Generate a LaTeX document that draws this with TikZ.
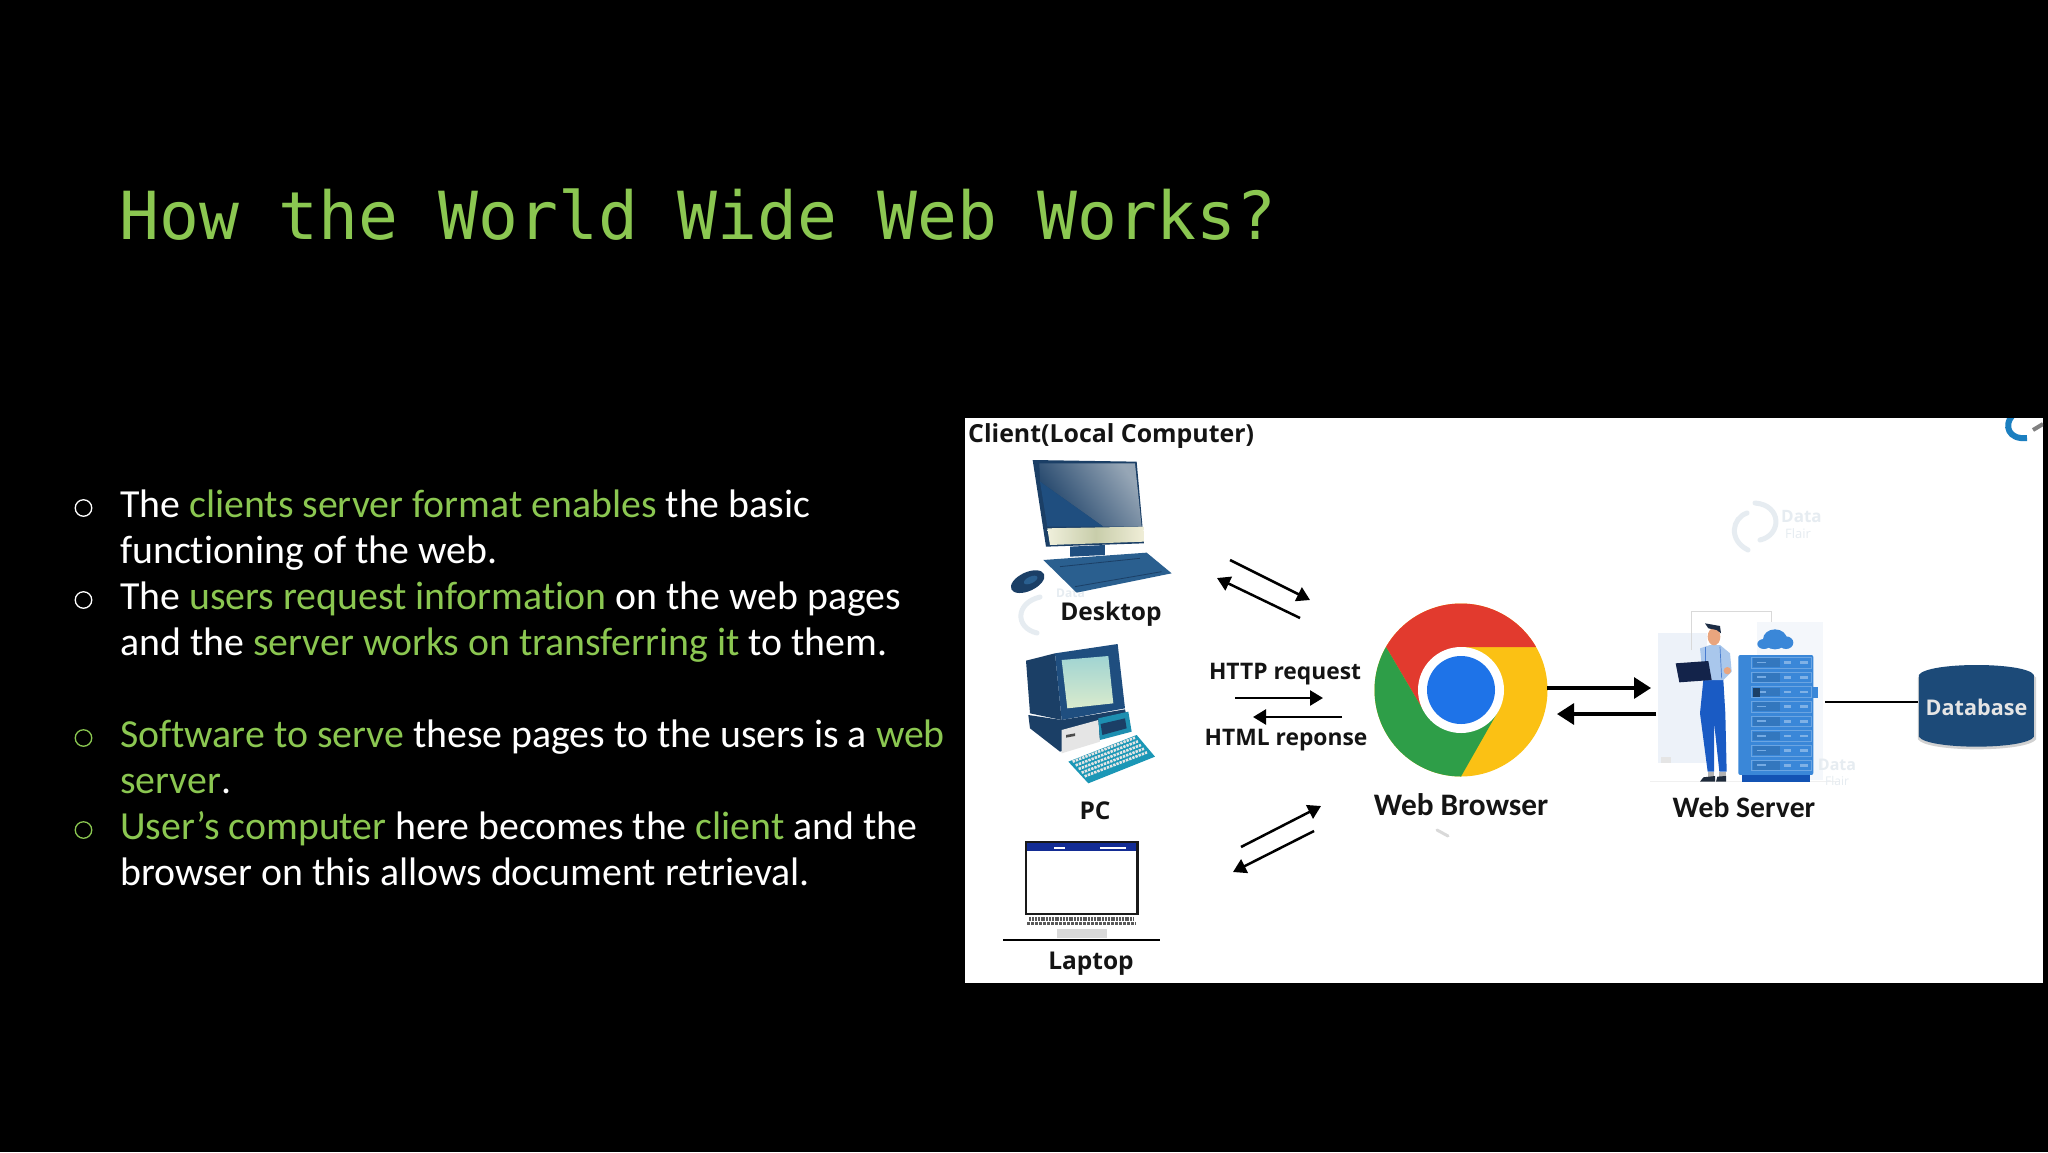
\documentclass[tikz,border=0pt]{standalone}
\usepackage{fontspec}
\setmainfont{Carlito}[Ligatures=NoCommon]
\setmonofont{DejaVu Sans Mono}
\newfontfamily\labelfont{Open Sans}
\usetikzlibrary{arrows.meta}
\definecolor{gr}{HTML}{8BC751}
\definecolor{pale}{HTML}{E6ECF1}
\definecolor{panel}{HTML}{EDF2F9}
\definecolor{rack}{HTML}{3A87D8}
\definecolor{navy}{HTML}{1B3F66}
\definecolor{midblue}{HTML}{1F4E7F}
\definecolor{kbblue}{HTML}{2A5F8F}
\definecolor{dbblue}{HTML}{1C4A78}
\definecolor{pants}{HTML}{1A5BC4}
\definecolor{shoe}{HTML}{1E2A3A}
\newcommand{\gt}[1]{\textcolor{gr}{#1}}
\tikzset{
 body/.style={anchor=base west,text=white,inner sep=0pt,font=\fontsize{39.8}{40}\selectfont},
 bul/.style={circle,draw,line width=1.3pt,minimum size=16.5pt,inner sep=0pt},
 lab/.style={inner sep=0pt,text=black!92,font=\labelfont\bfseries\fontsize{24.5}{26}\selectfont},
 labs/.style={inner sep=0pt,text=black!92,font=\labelfont\bfseries\fontsize{22.8}{24}\selectfont},
 flow/.style={line width=3.2pt,-{Triangle[length=17pt,width=21pt]},black},
 flowthin/.style={line width=2.5pt,-{Triangle[length=13pt,width=15pt]},black},
 wmark/.style={pale,line width=5pt,line cap=round},
 faint/.style={text=pale,inner sep=0pt,font=\labelfont\bfseries\fontsize{17}{17}\selectfont}
}
\begin{document}
\begin{tikzpicture}[x=1pt,y=-1pt]
\fill[black] (0,0) rectangle (2048,1152);
\useasboundingbox (0,0) rectangle (2048,1152);
\node[anchor=west,text=gr,inner sep=0pt,font=\ttfamily\fontsize{66.3}{66}\selectfont] (title) at (119,215) {How the World Wide Web Works?};
% left text
\node[body] (l1) at (120,517) {The \gt{clients server format enables} the basic};
\node[body] (l2) at (120,563.5) {functioning of the web.};
\node[body] (l3) at (120,609.5) {The \gt{users request information} on the web pages};
\node[body] (l4) at (120,655.5) {and the \gt{server works on transferring it} to them.};
\node[body] (l5) at (120,747.5) {\gt{Software to serve} these pages to the users is a \gt{web}};
\node[body] (l6) at (120,793.5) {\gt{server}.};
\node[body] (l7) at (120,839.5) {\gt{User’s computer} here becomes the \gt{client} and the};
\node[body] (l8) at (120,885.5) {browser on this allows document retrieval.};
\node[bul,draw=white] (b1) at (83.5,508) {};
\node[bul,draw=white] (b2) at (83.5,600) {};
\node[bul,draw=gr] (b3) at (83.5,738) {};
\node[bul,draw=gr] (b4) at (83.5,830) {};
% picture panel
\fill[white] (965,418) rectangle (2043,983);
\begin{scope}
\clip (965,418) rectangle (2043,983);
% watermarks
\draw[wmark] (1748,550) .. controls (1728,540) and (1732,518) .. (1747,513);
\draw[wmark] (1755,503) .. controls (1782,505) and (1782,535) .. (1760,540);
\node[faint,anchor=west] (wm1) at (1781,517) {Data};
\node[faint,anchor=west,font=\labelfont\fontsize{13}{13}\selectfont] (wm2) at (1785,534) {Flair};
\draw[wmark] (1040,597) .. controls (1015,603) and (1015,628) .. (1037,633);
\node[faint,anchor=west,font=\labelfont\bfseries\fontsize{12}{12}\selectfont] (wm3) at (1056,593) {Data};
\draw[line width=6pt,color={rgb,255:red,27;green,127;blue,192}] (2012,416) .. controls (2004,425) and (2008,440) .. (2027,438);
\draw[line width=4pt,gray] (2033,430) -- (2043,424);
\draw[line width=3pt,black!15,line cap=round] (1437,830) -- (1448,836);
\end{scope}
\node[lab,anchor=west,font=\labelfont\bfseries\fontsize{24.9}{26}\selectfont] (client) at (968,436.5) {Client(Local Computer)};
% Desktop
\begin{scope}[shift={(960,410)},scale=.3333]
\fill[navy] (218,150) -- (530,155) -- (552,400) -- (258,410) -- cycle;
\shade[left color=navy,right color={rgb,255:red,150;green,166;blue,182},shading angle=125] (238,160) -- (525,160) -- (545,350) -- (430,350) -- (240,215) -- cycle;
\fill[midblue] (240,215) -- (430,350) -- (262,350) -- cycle;
\shade[left color={rgb,255:red,240;green,240;blue,220},right color={rgb,255:red,240;green,238;blue,216},middle color={rgb,255:red,200;green,205;blue,170}] (262,355) -- (550,350) -- (552,395) -- (270,405) -- cycle;
\fill[midblue] (330,410) -- (435,405) -- (435,435) -- (330,440) -- cycle;
\fill[kbblue] (250,450) -- (560,428) -- (635,490) -- (350,548) -- cycle;
\draw[navy,line width=.8pt] (300,470) -- (540,445);
\draw[navy,line width=.8pt] (345,530) -- (605,485);
\fill[navy,rotate around={25:(203,515)}] (203,515) ellipse [x radius=54,y radius=28];
\fill[kbblue,rotate around={25:(212,510)}] (212,510) ellipse [x radius=22,y radius=10];
\end{scope}
% PC
\begin{scope}[shift={(960,640)},scale=.3333]
\fill[navy] (198,62) -- (285,40) -- (305,240) -- (210,220) -- cycle;
\fill[midblue] (285,40) -- (473,12) -- (495,205) -- (305,240) -- cycle;
\shade[top color={rgb,255:red,160;green,212;blue,210},bottom color={rgb,255:red,218;green,235;blue,205}] (305,60) -- (445,48) -- (460,190) -- (322,205) -- cycle;
\fill[navy] (205,225) -- (305,240) -- (495,208) -- (510,270) -- (300,335) -- (210,265) -- cycle;
\fill[black!10] (305,270) -- (415,240) -- (420,305) -- (305,340) -- cycle;
\fill[black!70] (318,285) -- (345,280) -- (345,288) -- (318,293) -- cycle;
\fill[kbblue!70!cyan] (415,235) -- (505,215) -- (515,275) -- (420,300) -- cycle;
\fill[navy] (422,252) -- (495,235) -- (500,265) -- (427,285) -- cycle;
\fill[kbblue!65!cyan] (325,365) -- (530,285) -- (585,350) -- (385,430) -- cycle;
\foreach \i in {0,1,2,3,4}{
 \draw[white!80!gray,line width=2.6pt,dash pattern=on 2.4pt off 1pt] ({338+\i*9},{365+\i*11}) -- ({525+\i*9},{293+\i*11});
}
% Laptop
\fill[navy!70!blue] (195,603) rectangle (535,632);
\fill[white] (282,622) rectangle (315,628);
\fill[white] (420,620) rectangle (497,626);
\draw[black!90,line width=2.4pt] (198,606) rectangle (532,822);
\draw[black!65,line width=4pt,dash pattern=on 2pt off .8pt] (208,836) -- (522,836);
\draw[black!65,line width=3pt,dash pattern=on 3pt off 1pt] (202,850) -- (528,850);
\fill[black!15] (290,866) rectangle (440,895);
\end{scope}
\coordinate (laptopL) at (1003,940);
\coordinate (laptopR) at (1160,940);
\draw[black,line width=2pt] (laptopL) -- (laptopR);
% labels
\node[lab] (desktop) at (1111,614.5) {Desktop};
\node[lab] (pc) at (1095,811) {PC};
\node[lab] (laptop) at (1091,964) {Laptop};
\node[labs] (http) at (1285,674) {HTTP request};
\node[labs] (html) at (1286,740.5) {HTML reponse};
% small arrows
\coordinate (a1) at (1230,560);
\coordinate (a2) at (1310,600);
\coordinate (a3) at (1300,618);
\coordinate (a4) at (1217,578);
\coordinate (h1) at (1235,698);
\coordinate (h2) at (1323,698);
\coordinate (h3) at (1342,717);
\coordinate (h4) at (1253,717);
\coordinate (d1) at (1241,847);
\coordinate (d2) at (1321,806);
\coordinate (d3) at (1314,831);
\coordinate (d4) at (1233,872);
\draw[flowthin] (a1) -- (a2);
\draw[flowthin] (a3) -- (a4);
\draw[flowthin] (h1) -- (h2);
\draw[flowthin] (h3) -- (h4);
\draw[flowthin] (d1) -- (d2);
\draw[flowthin] (d3) -- (d4);
% Chrome
\node[circle,minimum size=173pt,inner sep=0pt,fill={rgb,255:red,251;green,193;blue,20}] (browser) at (1461,690) {};
\begin{scope}
\clip (1461,690) circle (86.5);
\fill[color={rgb,255:red,226;green,58;blue,46}] (1386,647) -- (1386,590) -- (1536,590) -- (1536,647) -- (1461,647) -- (1461,690) -- (1424,711.5) -- cycle;
\fill[color={rgb,255:red,46;green,158;blue,72}] (1386,647) -- (1424,711.5) -- (1461,690) -- (1498,711.5) -- (1461,776.5) -- (1461,790) -- (1360,790) -- (1360,647) -- cycle;
\end{scope}
\fill[white] (1461,690) circle (43);
\fill[color={rgb,255:red,30;green,115;blue,232}] (1461,690) circle (34);
\node[lab,font=\fontsize{31.3}{32}\selectfont\bfseries] (wb) at (1461,804.5) {Web Browser};
% Server
\node[inner sep=0pt,minimum width=168pt,minimum height=160pt] (server) at (1741,702) {};
\begin{scope}[shift={(1640,600)},scale=.3333]
\fill[panel] (55,98) rectangle (200,490);
\fill[panel!60!white] (350,65) rectangle (550,540);
\fill[black!10] (62,472) rectangle (92,490);
\draw[black!15,line width=.8pt] (155,150) -- (155,35) -- (395,35) -- (395,65);
\draw[black!6,line width=1.5pt] (30,545) -- (600,545);
% cloud
\fill[rack] (405,118) ellipse [x radius=36,y radius=30];
\fill[rack] (372,132) ellipse [x radius=20,y radius=15];
\fill[rack] (438,128) ellipse [x radius=22,y radius=19];
% rack
\fill[rack] (515,260) rectangle (535,295);
\fill[rack,rounded corners=2pt] (295,165) rectangle (520,525);
\fill[color={rgb,255:red,19;green,83;blue,180}] (305,525) rectangle (510,545);
\foreach \i in {0,...,7}{
 \draw[white!25!rack,line width=.6pt] (335,{172+\i*44}) rectangle (515,{204+\i*44});
 \fill[rack!88!black] (340,{175+\i*44}) rectangle (420,{201+\i*44});
 \fill[white!30!rack] (350,{185+\i*44}) rectangle (378,{190+\i*44});
 \fill[white!35!rack] (432,{184+\i*44}) rectangle (452,{192+\i*44});
 \fill[white!35!rack] (480,{184+\i*44}) rectangle (504,{192+\i*44});
}
\fill[navy] (340,263) rectangle (360,291);
% person
\fill[pants] (190,240) -- (250,240) -- (256,340) -- (260,515) -- (238,515) -- (222,365) -- (222,515) -- (203,515) -- (180,340) -- cycle;
\fill[color={rgb,255:red,169;green,199;blue,236}] (180,145) -- (210,135) -- (240,135) -- (270,160) -- (275,215) -- (250,240) -- (190,240) -- cycle;
\draw[pants!80!white,line width=.7pt] (195,140) -- (195,190);
\draw[pants!80!white,line width=.7pt] (240,140) -- (245,235);
\fill[color={rgb,255:red,233;green,165;blue,126}] (222,110) ellipse [x radius=19,y radius=26];
\fill[color={rgb,255:red,233;green,165;blue,126}] (262,212) circle (11);
\fill[color={rgb,255:red,28;green,44;blue,68}] (195,70) -- (240,78) -- (243,100) -- (230,90) -- (205,85) -- cycle;
\fill[color={rgb,255:red,19;green,35;blue,74}] (107,190) -- (205,183) -- (215,240) -- (118,247) -- cycle;
\fill[white!70!black] (203,515) rectangle (222,530);
\fill[white!70!black] (238,515) rectangle (258,530);
\fill[shoe] (180,545) -- (190,532) -- (225,528) -- (225,545) -- cycle;
\fill[shoe] (228,545) -- (232,530) -- (258,528) -- (258,545) -- cycle;
\end{scope}
\node[faint,font=\labelfont\bfseries\fontsize{16}{16}\selectfont] (wm4) at (1837,765) {Data};
\node[faint,font=\labelfont\fontsize{12}{12}\selectfont] (wm5) at (1837,781) {Flair};
\node[lab,font=\fontsize{29.7}{31}\selectfont\bfseries] (ws) at (1744,807.5) {Web Server};
% DB
\begin{scope}[shift={(1340,580)},xscale=.4515,yscale=.3333]
\fill[black!18] (1280,293) .. controls (1300,253) and (1520,253) .. (1542,293) -- (1542,478) .. controls (1520,518) and (1300,518) .. (1280,478) -- cycle;
\fill[dbblue] (1282,285) .. controls (1300,245) and (1520,245) .. (1537,285) -- (1537,470) .. controls (1520,510) and (1300,510) .. (1282,470) -- cycle;
\end{scope}
\node[inner sep=0pt,minimum width=117pt,minimum height=60pt,text=white!90!black,font=\labelfont\bfseries\fontsize{21.6}{23}\selectfont] (db) at (1976.5,707.5) {Database};
% connectors
\coordinate (bu) at (1547,688);
\coordinate (su) at (1651,688);
\coordinate (sl) at (1656,714);
\coordinate (bl) at (1557,714);
\draw[flow] (bu) -- (su);
\draw[flow] (sl) -- (bl);
\draw[black,line width=2.4pt] (server.east) -- (db.west |- server.east);
\end{tikzpicture}
\end{document}
